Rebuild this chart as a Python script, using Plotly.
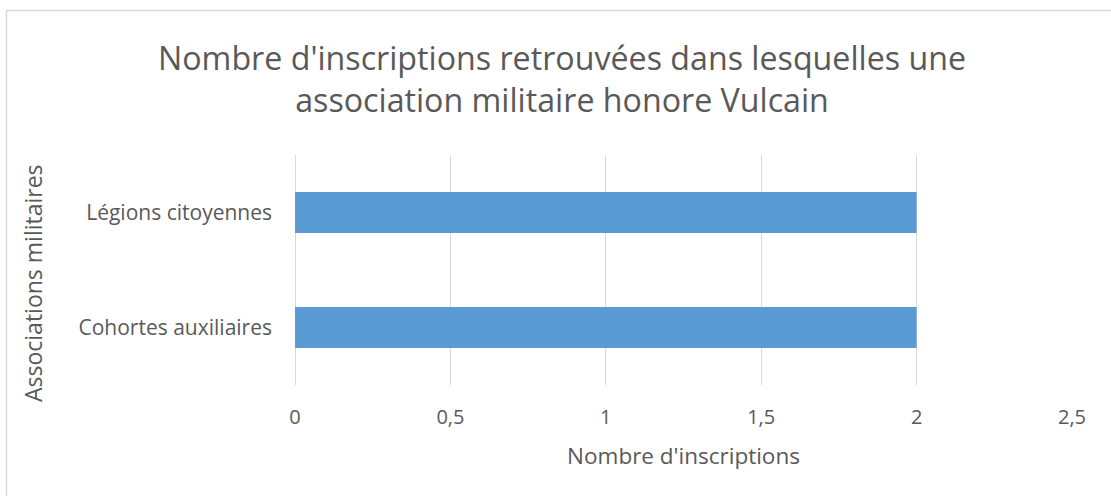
import plotly.graph_objects as go

categories = ["Cohortes auxiliaires", "Légions citoyennes"]
values = [2, 2]
tick_vals = [0, 0.5, 1, 1.5, 2, 2.5]
tick_text = ["0", "0,5", "1", "1,5", "2", "2,5"]

title_text = "Nombre d'inscriptions retrouvées dans lesquelles une<br>association militaire honore Vulcain"
x_title = "Nombre d'inscriptions"
y_title = "Associations militaires"

FONT = "Open Sans"
TXT = "#595959"
GRID = "#D9D9D9"

fig = go.Figure(go.Bar(
    x=values, y=categories, orientation="h",
    marker=dict(color="#5B9BD5", line=dict(width=0)),
    hoverinfo="x+y",
))

W, H = 1111, 496
ml, mr, mt, mb = 295, 39, 155, 111
pw, ph = W - ml - mr, H - mt - mb

def px_x(p):
    return (p - ml) / pw

def px_y(p):
    return (H - mb - p) / ph

fig.update_layout(
    width=W, height=H,
    margin=dict(l=ml, r=mr, t=mt, b=mb),
    paper_bgcolor="white", plot_bgcolor="white",
    font=dict(family=FONT, color=TXT),
    bargap=0.645,
    showlegend=False,
    title=dict(text=title_text, x=562 / W, xanchor="center",
               y=1 - 70 / H, yanchor="top", yref="container",
               font=dict(family=FONT, size=32.2, color=TXT)),
    xaxis=dict(range=[0, 2.5], tickvals=tick_vals, ticktext=tick_text,
               showgrid=True, gridcolor=GRID, gridwidth=1,
               zeroline=True, zerolinecolor=GRID, zerolinewidth=1,
               showline=False, ticks="", ticklabelstandoff=18,
               tickfont=dict(family=FONT, size=20, color=TXT),
               title=dict(text=x_title, standoff=19,
                          font=dict(family=FONT, size=22.5, color=TXT)),
               fixedrange=True),
    yaxis=dict(showgrid=False, zeroline=False, showline=False, ticks="",
               ticklabelstandoff=22,
               tickfont=dict(family=FONT, size=21, color=TXT),
               fixedrange=True),
    annotations=[dict(text=y_title, textangle=-90, xref="paper", yref="paper",
                      x=px_x(33), y=px_y(283), xanchor="center", yanchor="middle",
                      showarrow=False, font=dict(family=FONT, size=23, color=TXT))],
    shapes=[dict(type="rect", xref="paper", yref="paper",
                 x0=px_x(6.5), x1=px_x(1120), y0=px_y(510), y1=px_y(10.5),
                 line=dict(color=GRID, width=1.5), fillcolor="rgba(0,0,0,0)",
                 layer="below")],
)

fig.write_html("out.html", config={"displayModeBar": False},
               post_script="document.body.style.margin='0px';")
